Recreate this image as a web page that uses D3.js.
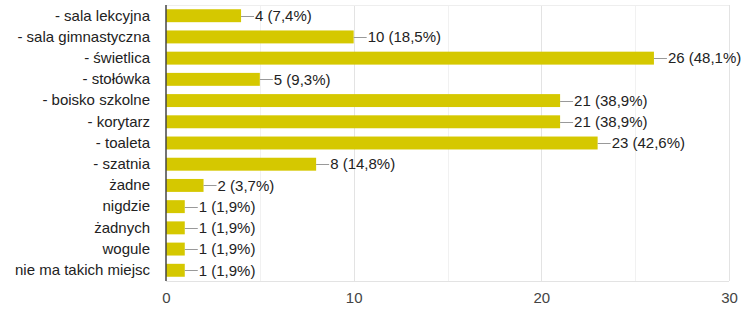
<!DOCTYPE html>
<html><head><meta charset="utf-8">
<script src="https://cdn.jsdelivr.net/npm/d3@7"></script>
<style>
html,body{margin:0;padding:0;background:#fff;}
svg text{font-family:"Liberation Sans",Arial,sans-serif;}
</style></head>
<body>
<svg id="chart" width="756" height="325"></svg>
<script>
const categories = ["- sala lekcyjna","- sala gimnastyczna","- świetlica","- stołówka","- boisko szkolne","- korytarz","- toaleta","- szatnia","żadne","nigdzie","żadnych","wogule","nie ma takich miejsc"];
const counts = [4,10,26,5,21,21,23,8,2,1,1,1,1];
const percents = ["7,4%","18,5%","48,1%","9,3%","38,9%","38,9%","42,6%","14,8%","3,7%","1,9%","1,9%","1,9%","1,9%"];
const majorTicks = [0,10,20,30];
const minorTicks = [5,15,25];

(function(){
const svg = d3.select("#chart");
const pLeft = 166, pRight = 729, pTop = 5, pBottom = 281;
const x = d3.scaleLinear().domain([0,30]).range([pLeft,pRight]);
const y = d3.scaleBand().domain(categories).range([pTop,pBottom]).paddingInner(0.39).paddingOuter(0.2);

// grid
svg.append("g").selectAll("line").data(minorTicks).join("line")
  .attr("x1",d=>Math.round(x(d))+0.5).attr("x2",d=>Math.round(x(d))+0.5).attr("y1",pTop).attr("y2",pBottom)
  .attr("stroke","#f1f1f1");
svg.append("g").selectAll("line").data(majorTicks.slice(1)).join("line")
  .attr("x1",d=>Math.round(x(d))+0.5).attr("x2",d=>Math.round(x(d))+0.5).attr("y1",pTop).attr("y2",pBottom)
  .attr("stroke","#e3e3e3");
svg.append("line").attr("x1",pLeft).attr("x2",pRight).attr("y1",pTop+0.5).attr("y2",pTop+0.5).attr("stroke","#eeeeee");
svg.append("line").attr("x1",pLeft).attr("x2",pRight).attr("y1",pBottom+0.5).attr("y2",pBottom+0.5).attr("stroke","#e3e3e3");

// bars
const rows = categories.map((c,i)=>({c, v:counts[i], p:percents[i]}));
svg.append("g").selectAll("rect").data(rows).join("rect")
  .attr("x",x(0)).attr("y",d=>y(d.c)).attr("width",d=>x(d.v)-x(0)).attr("height",y.bandwidth())
  .attr("fill","#d5c800");

// connectors and value labels
svg.append("g").selectAll("line").data(rows).join("line")
  .attr("x1",d=>x(d.v)).attr("x2",d=>x(d.v)+13)
  .attr("y1",d=>Math.round(y(d.c)+y.bandwidth()/2)+0.5).attr("y2",d=>Math.round(y(d.c)+y.bandwidth()/2)+0.5)
  .attr("stroke","#999");
svg.append("g").selectAll("text").data(rows).join("text")
  .attr("x",d=>x(d.v)+14).attr("y",d=>y(d.c)+y.bandwidth()/2).attr("dy","0.35em")
  .attr("font-size",15).attr("fill","#222")
  .text(d=>`${d.v} (${d.p})`);

// category labels
const yAxis = d3.axisLeft(y).tickSize(0).tickPadding(16);
const ya = svg.append("g").attr("transform",`translate(${pLeft},0)`).call(yAxis);
ya.select(".domain").remove();
ya.selectAll("text").attr("font-size",15).attr("fill","#222").attr("font-family","Liberation Sans, Arial, sans-serif");

// x axis labels
const xAxis = d3.axisBottom(x).tickValues(majorTicks).tickSize(0).tickPadding(11);
const xa = svg.append("g").attr("transform",`translate(0,${pBottom})`).call(xAxis);
xa.select(".domain").remove();
xa.selectAll("text").attr("font-size",15).attr("fill","#444").attr("font-family","Liberation Sans, Arial, sans-serif");

// zero axis line
svg.append("line").attr("x1",x(0)).attr("x2",x(0)).attr("y1",pTop).attr("y2",pBottom)
  .attr("stroke","#444").attr("stroke-width",1.5);
})();
</script>
</body></html>
